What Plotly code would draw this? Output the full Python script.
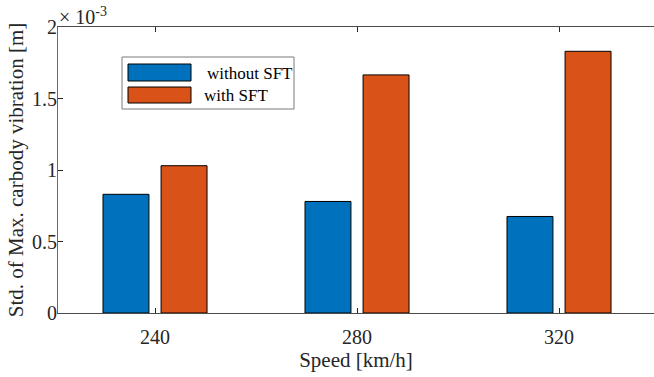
import plotly.graph_objects as go

# Standard deviation of maximum carbody vibration, metres
speeds = [240, 280, 320]
tick_labels = ["240", "280", "320"]
without_sft = [0.83e-3, 0.78e-3, 0.675e-3]
with_sft = [1.03e-3, 1.665e-3, 1.83e-3]
series_names = ["without SFT", "with SFT"]

SCALE = 1e-3
FONT = "Times New Roman, Liberation Serif, serif"
TXT = "#262626"
BLUE = "#0072BD"
ORANGE = "#D95319"

W, H = 654, 377
L, R, T, B = 58, 0, 27, 64
PW, PH = W - L - R, H - T - B


def px(x):
    return (x - L) / PW


def py(y):
    return (H - B - y) / PH


fig = go.Figure()
fig.add_trace(go.Bar(
    x=speeds, y=[v / SCALE for v in without_sft], name=series_names[0],
    width=9.1, offset=-10.3,
    marker=dict(color=BLUE, line=dict(color="black", width=1)),
))
fig.add_trace(go.Bar(
    x=speeds, y=[v / SCALE for v in with_sft], name=series_names[1],
    width=9.1, offset=1.2,
    marker=dict(color=ORANGE, line=dict(color="black", width=1)),
))

# hand-drawn legend box with large swatches
shapes = [
    dict(type="rect", xref="paper", yref="paper",
         x0=px(122), x1=px(294), y0=py(109), y1=py(57),
         line=dict(color="#7a7a7a", width=1), fillcolor="white"),
    dict(type="rect", xref="paper", yref="paper",
         x0=px(128), x1=px(191), y0=py(81), y1=py(64),
         line=dict(color="black", width=1), fillcolor=BLUE),
    dict(type="rect", xref="paper", yref="paper",
         x0=px(128), x1=px(191), y0=py(103), y1=py(87),
         line=dict(color="black", width=1), fillcolor=ORANGE),
]
annotations = [
    dict(text=series_names[0], xref="paper", yref="paper", x=px(205), y=py(73),
         xanchor="left", yanchor="middle", showarrow=False,
         font=dict(family=FONT, size=17, color="black")),
    dict(text=series_names[1], xref="paper", yref="paper", x=px(202), y=py(95),
         xanchor="left", yanchor="middle", showarrow=False,
         font=dict(family=FONT, size=17, color="black")),
    dict(text="× 10<sup>-3</sup>", xref="paper", yref="paper", x=px(57), y=py(16),
         xanchor="left", yanchor="middle", showarrow=False,
         font=dict(family=FONT, size=20, color=TXT)),
]

fig.update_layout(
    width=W, height=H,
    margin=dict(l=L, r=R, t=T, b=B),
    paper_bgcolor="white", plot_bgcolor="white",
    showlegend=False,
    barmode="group",
    shapes=shapes, annotations=annotations,
    font=dict(family=FONT, size=20, color=TXT),
)
fig.update_xaxes(
    range=[220.79, 338.81],
    tickvals=speeds, ticktext=tick_labels,
    ticks="inside", ticklen=5, tickcolor=TXT,
    showline=True, linecolor="#4a4a4a", linewidth=1, mirror="ticks",
    showgrid=False, zeroline=False,
    ticklabelstandoff=6,
    title=dict(text="Speed [km/h]", font=dict(family=FONT, size=21, color=TXT), standoff=1),
    tickfont=dict(family=FONT, size=20, color=TXT),
)
fig.update_yaxes(
    range=[0, 2],
    tickvals=[0, 0.5, 1, 1.5, 2], ticktext=["0", "0.5", "1", "1.5", "2"],
    ticks="inside", ticklen=5, tickcolor=TXT,
    showline=True, linecolor="#6a6a6a", linewidth=1,
    showgrid=False, zeroline=False,
    ticklabelstandoff=-4,
    title=dict(text="Std. of Max. carbody vibration [m]",
               font=dict(family=FONT, size=21, color=TXT), standoff=2),
    tickfont=dict(family=FONT, size=20, color=TXT),
)

fig.write_html("out.html")
